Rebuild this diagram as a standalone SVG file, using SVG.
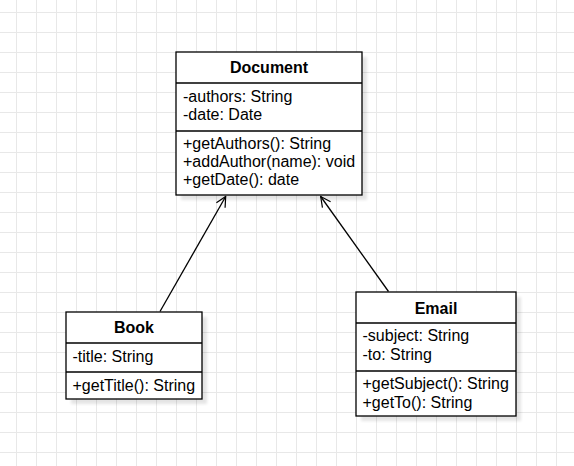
<svg xmlns="http://www.w3.org/2000/svg" width="574" height="466" viewBox="0 0 574 466">
<defs>
<pattern id="grid" x="16" y="12" width="20" height="20" patternUnits="userSpaceOnUse">
<path d="M0.5 0V20M0 0.5H20" fill="none" stroke="#e8e8e8" stroke-width="1"/>
</pattern>
<filter id="sh" x="-10%" y="-10%" width="130%" height="130%">
<feGaussianBlur stdDeviation="1.5"/>
</filter>
<marker id="open" viewBox="0 0 12 12" refX="11" refY="6" markerWidth="12" markerHeight="12" markerUnits="userSpaceOnUse" orient="auto">
<path d="M1 1L11 6L1 11" fill="none" stroke="#000" stroke-width="1.2"/>
</marker>
</defs>
<style>
.box{fill:#fff;stroke:#000;stroke-width:1.3}
.shadow{fill:#000;opacity:0.1;filter:url(#sh)}
.sep{stroke:#000;stroke-width:1.3}
.t{font-family:"Liberation Sans",Arial,sans-serif;font-size:16px;fill:#000}
.h{font-family:"Liberation Sans",Arial,sans-serif;font-size:16px;font-weight:bold;fill:#000;text-anchor:middle}
.edge{fill:none;stroke:#000;stroke-width:1.3}
</style>
<rect width="574" height="466" fill="#fff"/>
<rect width="574" height="466" fill="url(#grid)"/>
<g id="Document">
<rect class="shadow" x="181" y="57" width="186" height="143"/>
<rect class="box" x="176" y="52" width="186" height="143"/>
<line class="sep" x1="176" y1="83" x2="362" y2="83"/>
<line class="sep" x1="176" y1="131" x2="362" y2="131"/>
<text class="h" x="269" y="73">Document</text>
<text class="t" x="183" y="101.5">-authors: String</text>
<text class="t" x="183" y="119.5">-date: Date</text>
<text class="t" x="183" y="149">+getAuthors(): String</text>
<text class="t" x="183" y="167">+addAuthor(name): void</text>
<text class="t" x="183" y="185">+getDate(): date</text>
</g>
<g id="Book">
<rect class="shadow" x="71" y="317" width="136" height="87"/>
<rect class="box" x="66" y="312" width="136" height="87"/>
<line class="sep" x1="66" y1="343" x2="202" y2="343"/>
<line class="sep" x1="66" y1="372" x2="202" y2="372"/>
<text class="h" x="134" y="333">Book</text>
<text class="t" x="72.5" y="362">-title: String</text>
<text class="t" x="72.5" y="390.5">+getTitle(): String</text>
</g>
<g id="Email">
<rect class="shadow" x="361" y="297" width="160" height="124"/>
<rect class="box" x="356" y="292" width="160" height="124"/>
<line class="sep" x1="356" y1="323" x2="516" y2="323"/>
<line class="sep" x1="356" y1="371" x2="516" y2="371"/>
<text class="h" x="436" y="313.5">Email</text>
<text class="t" x="362.5" y="341">-subject: String</text>
<text class="t" x="362.5" y="359.5">-to: String</text>
<text class="t" x="362.5" y="389">+getSubject(): String</text>
<text class="t" x="362.5" y="407.5">+getTo(): String</text>
</g>
<g id="connectors">
<line class="edge" x1="160" y1="311.5" x2="225.7" y2="196.5" marker-end="url(#open)"/>
<line class="edge" x1="388.5" y1="291.5" x2="320.7" y2="196.5" marker-end="url(#open)"/>
</g>
</svg>
